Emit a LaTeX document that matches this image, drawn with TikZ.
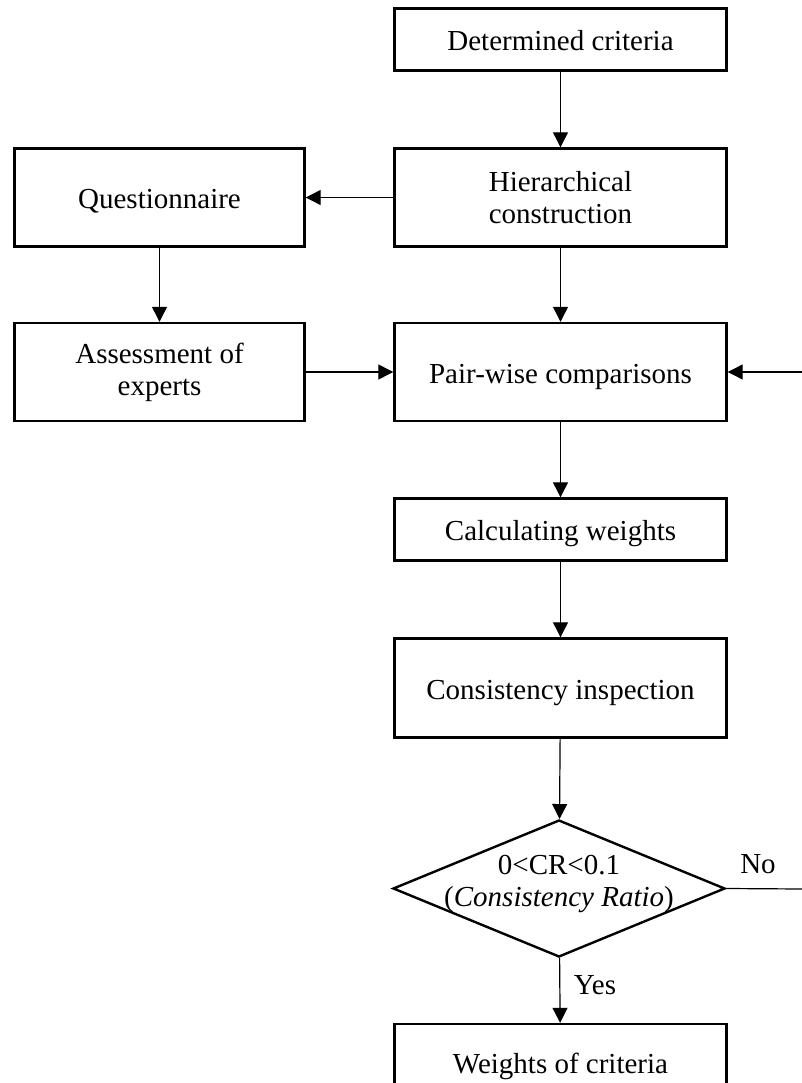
\documentclass[tikz,border=0pt]{standalone}
\usepackage{fontspec}
\setmainfont{Liberation Serif}
\usetikzlibrary{arrows.meta,shapes.geometric}
\begin{document}
\begin{tikzpicture}[x=1pt,y=-1pt,
  font=\fontsize{29}{32}\selectfont,
  box/.style={draw, line width=2.4pt, rectangle, inner sep=0pt, align=center},
  wide/.style={box, minimum width=332pt},
  narrow/.style={box, minimum width=290pt},
  oneline/.style={text height=28pt, text depth=6pt},
  decision/.style={draw, line width=2.4pt, diamond, inner sep=0pt,
    minimum width=332pt, minimum height=137pt},
  flow/.style={line width=1.2pt, -{Triangle[length=15pt,width=15pt]}},
  plain/.style={line width=1.2pt}]
\useasboundingbox (0,0) rectangle (802,1083);
\clip (0,0) rectangle (802,1083);

% process boxes
\node[wide, oneline, minimum height=62pt] (crit) at (560.5,39.7) {Determined criteria};
\node[wide, minimum height=98pt] (hier) at (560.5,197.5) {Hierarchical\\construction};
\node[narrow, oneline, minimum height=98pt] (quest) at (159.5,197.5) {Questionnaire};
\node[narrow, minimum height=98pt] (assess) at (159.5,372) {Assessment of\\experts};
\node[wide, oneline, minimum height=98pt] (pair) at (560.5,372) {Pair-wise comparisons};
\node[wide, oneline, minimum height=62pt] (calc) at (560.5,529.5) {Calculating weights};
\node[wide, oneline, minimum height=99pt] (cons) at (560.5,688) {Consistency inspection};

% consistency test
\node[decision] (test) at (559,888.5) {};
\node[align=center] (ratio) at (559,884) {0<CR<0.1\\(\textit{Consistency Ratio})};

\node[wide, minimum height=84pt] (final) at (560.5,1066) {Weights of criteria};

% branch labels
\node (no) at (758,864) {No};
\node (yes) at (595,985) {Yes};

% loose ends of the feedback loop
\coordinate (rin) at (802,372);
\coordinate (rout) at (802,889);

% connectors
\draw[flow] (crit) -- (hier);
\draw[flow] (hier) -- (quest);
\draw[flow] (quest) -- (assess);
\draw[flow] (hier) -- (pair);
\draw[flow] (assess) -- (pair);
\draw[flow] (rin) -- (pair);
\draw[flow] (pair) -- (calc);
\draw[flow] (calc) -- (cons);
\draw[flow] (cons) -- (test);
\draw[flow] (test) -- (final);
\draw[plain] (test.east) -- (rout);
\end{tikzpicture}
\end{document}
